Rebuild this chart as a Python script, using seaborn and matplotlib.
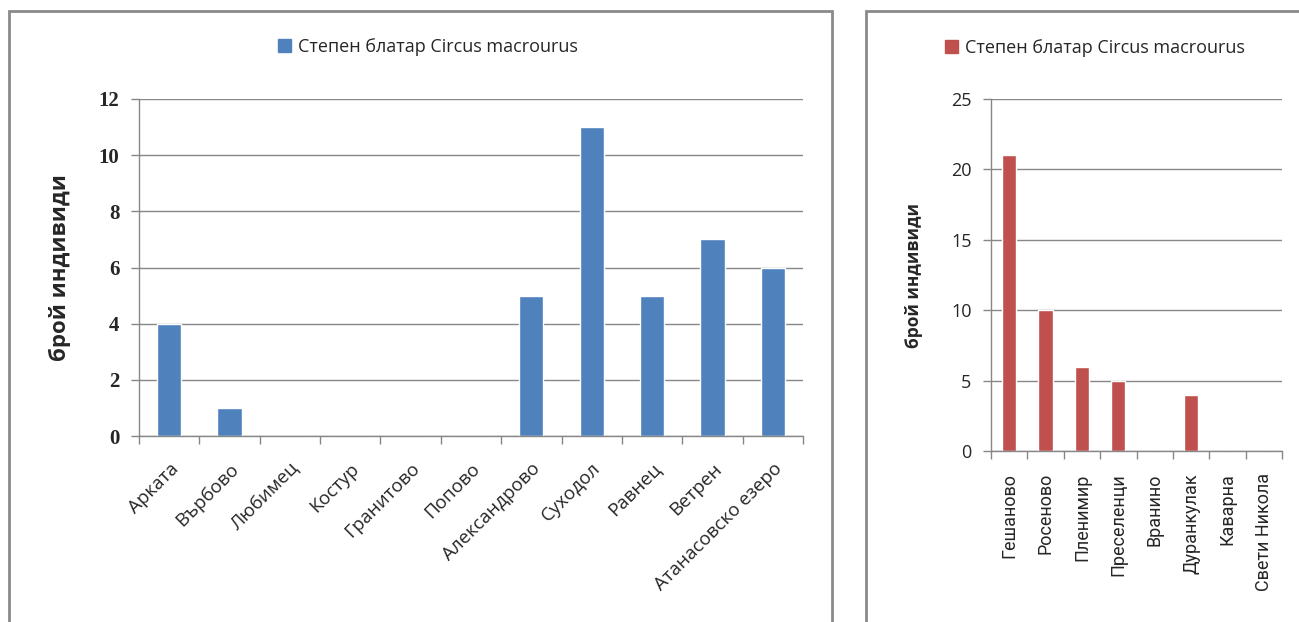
import matplotlib
matplotlib.use("Agg")
import matplotlib.pyplot as plt
from matplotlib.patches import Rectangle, Patch
from matplotlib.ticker import FixedLocator
import seaborn as sns
import pandas as pd

left_sites = ["Арката", "Върбово", "Любимец", "Костур", "Гранитово", "Попово",
              "Александрово", "Суходол", "Равнец", "Ветрен", "Атанасовско езеро"]
left_counts = [4, 1, 0, 0, 0, 0, 5, 11, 5, 7, 6]
left_yticks = [0, 2, 4, 6, 8, 10, 12]

right_sites = ["Гешаново", "Росеново", "Пленимир", "Преселенци", "Вранино",
               "Дуранкулак", "Каварна", "Свети Никола"]
right_counts = [21, 10, 6, 5, 0, 4, 0, 0]
right_yticks = [0, 5, 10, 15, 20, 25]

series_name = "Степен блатар Circus macrourus"
ylabel = "брой индивиди"
blue = "#4F81BD"
red = "#C0504D"
grid_c = "#878787"

sns.set_theme(style="white")
plt.rcParams['font.family'] = ['Open Sans', 'DejaVu Sans']

W, H = 1299, 622
fig = plt.figure(figsize=(W / 100, H / 100), dpi=100)

fig.patches.append(Rectangle((9 / W, -0.05), (832 - 9) / W, 1 - 11 / H + 0.05,
                             transform=fig.transFigure, fill=False,
                             edgecolor="#8a8a8a", linewidth=2, zorder=0))
fig.patches.append(Rectangle((866 / W, -0.05), 0.5, 1 - 11 / H + 0.05,
                             transform=fig.transFigure, fill=False,
                             edgecolor="#8a8a8a", linewidth=2, zorder=0))


def style_axes(ax, n, yticks, tick_family, tick_size, tick_weight):
    ax.set_xlim(-0.5, n - 0.5)
    ax.set_ylim(yticks[0], yticks[-1])
    ax.set_yticks(yticks)
    ax.yaxis.grid(True, color=grid_c, linewidth=1)
    ax.set_axisbelow(True)
    for s in ["top", "right"]:
        ax.spines[s].set_visible(False)
    for s in ["left", "bottom"]:
        ax.spines[s].set_color(grid_c)
        ax.spines[s].set_linewidth(1)
    ax.xaxis.set_minor_locator(FixedLocator([i - 0.5 for i in range(n + 1)]))
    ax.tick_params(axis="x", which="minor", length=6, color=grid_c, width=1,
                   direction="out", bottom=True)
    ax.tick_params(axis="y", length=6, color=grid_c, width=1, direction="out",
                   left=True, pad=8)
    for lab in ax.get_yticklabels():
        lab.set_family(tick_family)
        lab.set_fontsize(tick_size)
        lab.set_fontweight(tick_weight)


# left chart
axL = fig.add_axes([139 / W, 1 - 436 / H, (803 - 139) / W, (436 - 99) / H])
dfL = pd.DataFrame({"site": left_sites, "count": left_counts})
sns.barplot(data=dfL, x="site", y="count", color=blue, width=0.4,
            saturation=1, ax=axL)
style_axes(axL, len(left_sites), left_yticks,
           ["Liberation Serif", "DejaVu Serif"], 15, "bold")
axL.set_xlabel("")
axL.set_ylabel(ylabel, fontsize=16, fontweight="bold", labelpad=20)
axL.set_xticks(range(len(left_sites)))
axL.set_xticklabels(left_sites, rotation=45, ha="right", rotation_mode="anchor",
                    fontsize=13.5)
axL.tick_params(axis="x", which="major", length=0, pad=17)
axL.legend(handles=[Patch(color=blue, label=series_name)], loc="center",
           bbox_to_anchor=(428 / W, 1 - 47 / H), bbox_transform=fig.transFigure,
           frameon=False, fontsize=13, handlelength=0.7, handleheight=0.7,
           handletextpad=0.4)

# right chart
axR = fig.add_axes([991 / W, 1 - 451 / H, (1282 - 991) / W, (451 - 99) / H])
dfR = pd.DataFrame({"site": right_sites, "count": right_counts})
sns.barplot(data=dfR, x="site", y="count", color=red, width=0.39,
            saturation=1, ax=axR)
style_axes(axR, len(right_sites), right_yticks,
           ["Open Sans", "DejaVu Sans"], 13, "normal")
axR.set_xlabel("")
axR.set_ylabel(ylabel, fontsize=12.5, fontweight="bold", labelpad=20)
axR.set_xticks(range(len(right_sites)))
axR.set_xticklabels(right_sites, rotation=90, ha="center", va="top",
                    fontsize=13, family=["Roboto", "DejaVu Sans"])
axR.tick_params(axis="x", which="major", length=0, pad=16)
axR.legend(handles=[Patch(color=red, label=series_name)], loc="center",
           bbox_to_anchor=(1095 / W, 1 - 48 / H), bbox_transform=fig.transFigure,
           frameon=False, fontsize=13, handlelength=0.7, handleheight=0.7,
           handletextpad=0.4)

fig.savefig("out.png", dpi=100)
